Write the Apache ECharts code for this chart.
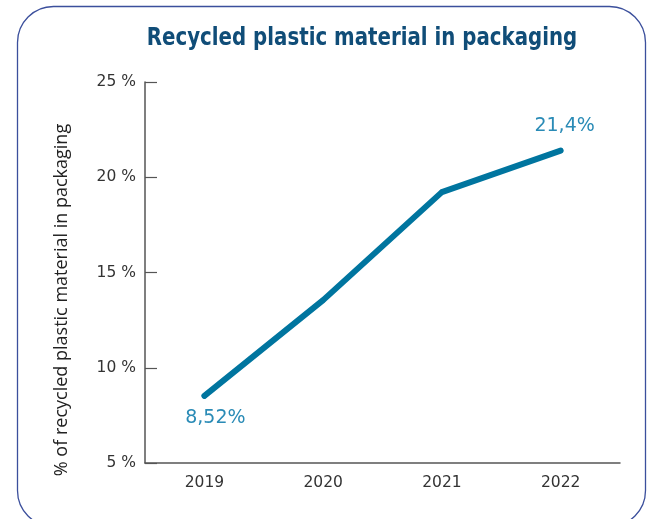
<!DOCTYPE html>
<html><head><meta charset="utf-8">
<script src="https://cdn.jsdelivr.net/npm/echarts@6/dist/echarts.min.js"></script>
<style>html,body{margin:0;padding:0;background:#fff}#c{width:656px;height:519px}</style>
</head><body><div id="c"></div>
<script>
const categories = ['2019', '2020', '2021', '2022'];
const recycledShare = [8.52, 13.55, 19.22, 21.4];
const pointLabels = ['8,52%', '', '', '21,4%'];
const yTicks = [5, 10, 15, 20, 25];
const titleText = 'Recycled plastic material in packaging';
const yAxisTitle = '% of recycled plastic material in packaging';

const chart = echarts.init(document.getElementById('c'));
const lineData = recycledShare.map((v, i) => {
  const d = { value: v };
  if (pointLabels[i]) {
    d.label = {
      show: true,
      formatter: pointLabels[i],
      position: i === 0 ? 'bottom' : 'top',
      offset: i === 0 ? [11, 5] : [4, -8]
    };
  }
  return d;
});
chart.setOption({
  animation: false,
  graphic: [{
    type: 'rect',
    shape: { x: 17.5, y: 6.5, width: 628, height: 520, r: 36 },
    style: { fill: 'none', stroke: '#3b4f9c', lineWidth: 1.3 },
    z: -1
  }, {
    type: 'text',
    x: 362, y: 39, scaleY: 1.13,
    style: {
      text: titleText, align: 'center', verticalAlign: 'middle',
      font: 'bold 22px "DejaVu Sans Condensed"', fill: '#104d78'
    }
  }, {
    type: 'text',
    x: 62, y: 300, rotation: Math.PI / 2,
    style: {
      text: yAxisTitle, align: 'center', verticalAlign: 'middle',
      font: '18px "Open Sans"', fill: '#222'
    }
  }],
  grid: { left: 145, right: 36, top: 82, bottom: 56 },
  xAxis: {
    type: 'category', data: categories, boundaryGap: true,
    axisLine: { lineStyle: { color: '#555', width: 1.5 } },
    axisTick: { inside: true, length: 10, lineStyle: { color: '#555', width: 1.2 } },
    axisLabel: { fontFamily: 'DejaVu Sans', fontSize: 15.5, color: '#333', margin: 12 }
  },
  yAxis: {
    type: 'value', min: yTicks[0], max: yTicks[yTicks.length - 1], interval: 5,
    axisLine: { show: true, lineStyle: { color: '#555', width: 1.5 } },
    axisTick: { show: true, inside: true, length: 12, lineStyle: { color: '#555', width: 1.2 } },
    splitLine: { show: false },
    axisLabel: { formatter: '{value} %', fontFamily: 'DejaVu Sans', fontSize: 15.5, color: '#333', margin: 9 }
  },
  series: [{
    type: 'line', data: lineData, symbol: 'circle', symbolSize: 5, showSymbol: true,
    lineStyle: { color: '#00759f', width: 6, cap: 'round', join: 'round' },
    itemStyle: { color: '#00759f' },
    label: { show: false, fontFamily: 'DejaVu Sans', fontSize: 19, color: '#2a8bb6' }
  }]
});
</script></body></html>
